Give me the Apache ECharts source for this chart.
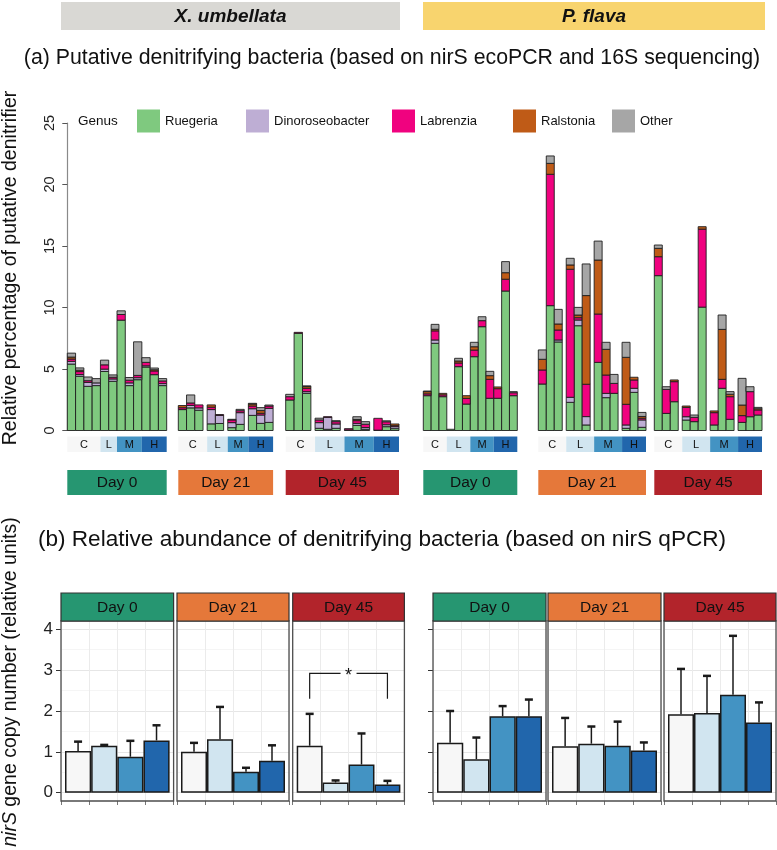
<!DOCTYPE html>
<html><head><meta charset="utf-8">
<script src="https://cdn.jsdelivr.net/npm/echarts@6/dist/echarts.min.js"></script>
<style>html,body{margin:0;padding:0;background:#fff}#c{width:777px;height:850px}</style>
</head><body><div id="c"></div>
<script>
// ---------------- DATA ----------------
const genera = ['Ruegeria','Dinoroseobacter','Labrenzia','Ralstonia','Other'];
const treatments = ['C','L','M','H'];
const days = ['Day 0','Day 21','Day 45'];
const species = ['X. umbellata','P. flava'];
const yTicksTop = [0,5,10,15,20,25];

// (a) stacked % per sample: [Ruegeria, Dinoroseobacter, Labrenzia, Ralstonia, Other]
const xumDay0Sizes = [4,2,3,3];
const xumDay0 = [
 [5.40,0.22,0.19,0.16,0.32],[4.41,0.14,0.24,0.11,0.19],[3.59,0.32,0.14,0.00,0.30],[3.65,0.22,0.00,0.00,0.35],
 [4.80,0.19,0.35,0.00,0.38],[4.00,0.19,0.14,0.00,0.19],
 [8.97,0.00,0.46,0.00,0.30],[3.65,0.22,0.22,0.00,0.22],[4.13,0.16,0.19,0.00,2.73],
 [5.16,0.10,0.28,0.00,0.38],[4.54,0.00,0.30,0.10,0.14],[3.65,0.16,0.22,0.00,0.19]
];
const xumDay21Sizes = [3,2,2,3];
const xumDay21 = [
 [1.70,0.00,0.15,0.18,0.00],[1.84,0.20,0.20,0.00,0.65],[1.65,0.19,0.24,0.00,0.00],
 [0.54,1.16,0.20,0.18,0.00],[0.57,0.65,0.08,0.00,0.00],
 [0.23,0.41,0.22,0.00,0.05],[0.50,0.95,0.16,0.00,0.11],
 [1.23,0.54,0.22,0.16,0.06],[0.58,0.68,0.14,0.22,0.24],[0.66,1.14,0.19,0.00,0.08]
];
const xumDay45Sizes = [3,3,3,3];
const xumDay45 = [
 [2.48,0.00,0.27,0.00,0.19],[7.90,0.00,0.08,0.00,0.00],[3.02,0.14,0.27,0.14,0.06],
 [0.18,0.46,0.22,0.00,0.14],[0.10,0.97,0.05,0.00,0.00],[0.18,0.35,0.19,0.00,0.08],
 [0.05,0.00,0.10,0.00,0.00],[0.42,0.16,0.22,0.10,0.22],[0.10,0.14,0.27,0.00,0.21],
 [0.03,0.00,0.96,0.00,0.00],[0.31,0.16,0.24,0.00,0.08],[0.15,0.16,0.08,0.14,0.00]
];
const pflDay0Sizes = [3,3,3,3];
const pflDay0 = [
 [2.83,0.00,0.15,0.18,0.05],[7.09,0.27,0.74,0.13,0.40],[2.75,0.00,0.15,0.12,0.00],
 [0.10,0.00,0.00,0.00,0.00],[5.19,0.00,0.30,0.16,0.22],[2.15,0.00,0.46,0.22,0.00],
 [6.00,0.00,0.54,0.27,0.36],[8.44,0.00,0.49,0.00,0.32],[2.62,0.00,1.54,0.30,0.35],
 [2.62,0.00,0.78,0.14,0.00],[11.34,0.00,0.96,0.53,0.90],[2.83,0.00,0.24,0.00,0.09]
];
const pflDay21Sizes = [3,3,3,3];
const pflDay21 = [
 [3.78,0.00,1.14,0.87,0.76],[10.15,0.00,10.68,0.89,0.60],[7.20,0.16,0.81,0.49,1.19],
 [2.29,0.41,10.41,0.35,0.54],[8.52,0.46,0.19,0.22,0.62],[0.45,0.68,2.63,7.21,2.57],
 [5.54,0.00,3.93,4.39,1.54],[2.67,0.35,1.49,2.09,0.57],[3.02,0.00,0.81,0.00,0.73],
 [0.18,0.27,1.68,3.82,1.22],[3.10,0.33,0.68,0.22,0.00],[0.26,0.60,0.14,0.14,0.33]
];
const pflDay45Sizes = [3,3,3,3];
const pflDay45 = [
 [12.59,0.00,1.54,0.68,0.27],[1.39,0.00,1.95,0.00,0.22],[2.34,0.00,1.63,0.14,0.00],
 [0.85,0.27,0.76,0.11,0.00],[0.72,0.00,0.35,0.00,0.19],[10.03,0.00,6.34,0.20,0.00],
 [0.45,0.00,1.00,0.14,0.00],[3.43,0.00,0.73,4.06,1.17],[0.91,0.00,1.84,0.20,0.21],
 [0.66,0.00,0.55,0.86,2.17],[1.12,0.00,2.04,0.00,0.40],[1.26,0.00,0.41,0.10,0.11]
];

// (b) nirS qPCR: mean and upper error (mean + sd), per day, per treatment C L M H
const xumMean  = [[1.02,1.15,0.88,1.28],[1.00,1.31,0.51,0.78],[1.15,0.25,0.69,0.20]];
const xumUpper = [[1.25,1.17,1.27,1.65],[1.22,2.10,0.61,1.16],[1.93,0.30,1.45,0.29]];
const pflMean  = [[1.22,0.82,1.87,1.87],[1.14,1.20,1.15,1.03],[1.92,1.95,2.40,1.72]];
const pflUpper = [[2.00,1.35,2.12,2.28],[1.83,1.62,1.74,1.23],[3.03,2.86,3.84,2.21]];
const yTicksBottom = [0,1,2,3,4];

// ---------------- STYLE ----------------
const FONT = '"Liberation Sans", Arial, Helvetica, sans-serif';
const genusColors = ['#7fc97f','#beaed4','#f0027f','#bf5b17','#a6a6a6'];
const treatColors = ['#f7f7f7','#d1e5f0','#4393c3','#2166ac'];
const dayColors = ['#269671','#e5783a','#b2242b'];

const grid=[], xAxis=[], yAxis=[], series=[], graphic=[];

// ---------------- (a) TOP PANEL ----------------
const TOP = 123, ZERO = 430.5;
const topGroups = [
  {bars:xumDay0,  sizes:xumDay0Sizes,  gap:0,   left:67.3,  right:166.7, day:0},
  {bars:xumDay21, sizes:xumDay21Sizes, gap:0.5, left:178.3, right:273.1, day:1},
  {bars:xumDay45, sizes:xumDay45Sizes, gap:0.5, left:285.7, right:399.0, day:2},
  {bars:pflDay0,  sizes:pflDay0Sizes,  gap:0,   left:423.3, right:517.3, day:0},
  {bars:pflDay21, sizes:pflDay21Sizes, gap:0.5, left:538.3, right:646.0, day:1},
  {bars:pflDay45, sizes:pflDay45Sizes, gap:0.5, left:654.3, right:762.0, day:2}
];

function segRender(params, api){
  const x=api.value(0), lo=api.value(1), hi=api.value(2);
  if (!(hi>lo)) return null;
  const a=api.coord([x-0.5, lo]), b=api.coord([x+0.5, hi]);
  return {type:'rect', shape:{x:a[0], y:b[1], width:b[0]-a[0], height:a[1]-b[1]},
    style:{fill:api.visual('color'), stroke:'#1e1e1e', lineWidth:0.9}};
}
function txt(t, x, y, font, color){
  return {type:'text', x:x, y:y, style:{text:t, font:font, fill:color||'#111',
    textAlign:'center', textVerticalAlign:'middle', align:'center', verticalAlign:'middle'}};
}
function treatRender(params, api){
  const s=api.value(0), e=api.value(1), ti=api.value(2);
  const a=api.coord([s,0]), b=api.coord([e,0]);
  return {type:'group', children:[
    {type:'rect', shape:{x:a[0], y:a[1]+6, width:b[0]-a[0], height:15.5}, style:{fill:treatColors[ti]}},
    txt(treatments[ti], (a[0]+b[0])/2, a[1]+14, '11px '+FONT, '#111')
  ]};
}
function dayRender(params, api){
  const s=api.value(0), e=api.value(1), d=api.value(2);
  const a=api.coord([s,0]), b=api.coord([e,0]);
  return {type:'group', children:[
    {type:'rect', shape:{x:a[0], y:a[1]+39.5, width:b[0]-a[0], height:25}, style:{fill:dayColors[d]}},
    txt(days[d], (a[0]+b[0])/2, a[1]+52.5, '15.5px '+FONT, '#111')
  ]};
}

topGroups.forEach((g, gi) => {
  const pos=[], starts=[]; let u=0;
  g.sizes.forEach((n, ti) => {
    if (ti>0) u += g.gap;
    starts.push(u);
    for (let k=0;k<n;k++){ pos.push(u+0.5); u+=1; }
  });
  const total=u;
  const boxes = starts.map((s,i)=>[s, i<starts.length-1 ? starts[i+1] : total, i, 0]);
  grid.push({left:g.left, top:TOP, width:g.right-g.left, height:ZERO-TOP});
  xAxis.push({gridIndex:gi, type:'value', min:0, max:total, show:false});
  yAxis.push({gridIndex:gi, type:'value', min:0, max:25, interval:5, show:gi===0, offset:5,
    axisLine:{show:true, lineStyle:{color:'#8a8a8a', width:1.2}},
    axisTick:{show:true, length:5, lineStyle:{color:'#555'}},
    axisLabel:{rotate:90, fontSize:14.5, color:'#222', margin:5, fontFamily:FONT},
    splitLine:{show:false}});
  const base = g.bars.map(()=>0);
  genera.forEach((name, k) => {
    const data = g.bars.map((b,i)=>{ const lo=base[i]; base[i]=lo+b[k]; return [pos[i], lo, base[i]]; });
    series.push({type:'custom', name:name, xAxisIndex:gi, yAxisIndex:gi,
      itemStyle:{color:genusColors[k]}, encode:{x:0, y:[1,2]}, data:data, renderItem:segRender, z:3});
  });
  series.push({type:'custom', xAxisIndex:gi, yAxisIndex:gi, data:boxes, encode:{x:[0,1], y:3},
    renderItem:treatRender, clip:false, silent:true, z:2});
  series.push({type:'custom', xAxisIndex:gi, yAxisIndex:gi, data:[[0,total,g.day,0]], encode:{x:[0,1], y:3},
    renderItem:dayRender, clip:false, silent:true, z:2});
});

// ---------------- (b) BOTTOM PANEL ----------------
const PTOP = 621, PBOT = 801, Y4 = 629.3, Y0 = 792.7, STRIP_TOP = 593;
const facets = [
  {x0:61,  x1:173.6, mean:xumMean[0], up:xumUpper[0], day:0, labels:true,  ticks:true},
  {x0:177, x1:289,   mean:xumMean[1], up:xumUpper[1], day:1, labels:false, ticks:false},
  {x0:292.7,x1:404.4,mean:xumMean[2], up:xumUpper[2], day:2, labels:false, ticks:false, bracket:true},
  {x0:433, x1:546,   mean:pflMean[0], up:pflUpper[0], day:0, labels:false, ticks:true},
  {x0:548, x1:661,   mean:pflMean[1], up:pflUpper[1], day:1, labels:false, ticks:false},
  {x0:664, x1:776,   mean:pflMean[2], up:pflUpper[2], day:2, labels:false, ticks:false}
];
function errRender(params, api){
  const a=api.coord([api.value(0), api.value(1)]), b=api.coord([api.value(0), api.value(2)]);
  return {type:'group', children:[
    {type:'line', shape:{x1:a[0],y1:a[1],x2:b[0],y2:b[1]}, style:{stroke:'#1a1a1a', lineWidth:1.5}},
    {type:'line', shape:{x1:b[0]-4,y1:b[1],x2:b[0]+4,y2:b[1]}, style:{stroke:'#1a1a1a', lineWidth:2.5}}
  ]};
}
function bracketRender(params, api){
  const i0=api.value(0), i1=api.value(1), lo=api.value(2), hi=api.value(3);
  const p0=api.coord([i0,lo]), p1=api.coord([i0,hi]), p2=api.coord([i1,hi]), p3=api.coord([i1,lo]);
  const mid=(p1[0]+p2[0])/2;
  const st={stroke:'#1a1a1a', lineWidth:1.2, fill:'none'};
  return {type:'group', children:[
    {type:'polyline', shape:{points:[p0,p1,[mid-8,p1[1]]]}, style:st},
    {type:'polyline', shape:{points:[[mid+8,p2[1]],p2,p3]}, style:st},
    txt('*', mid, p1[1]+3, '18px '+FONT, '#111')
  ]};
}
facets.forEach((f, fi) => {
  const gA = grid.length, w = f.x1-f.x0;
  grid.push({left:f.x0, top:PTOP, width:w, height:PBOT-PTOP});
  xAxis.push({gridIndex:gA, type:'category', data:treatments, boundaryGap:true,
    axisLine:{show:false}, axisLabel:{show:false},
    axisTick:{show:true, length:4, interval:0, lineStyle:{color:'#777'}},
    splitLine:{show:true, interval:0, lineStyle:{color:'#ebebeb', width:1}}});
  yAxis.push({gridIndex:gA, type:'value', min:0, max:1, show:false});
  grid.push({left:f.x0, top:Y4, width:w, height:Y0-Y4});
  xAxis.push({gridIndex:gA+1, type:'value', min:0, max:1, show:false});
  yAxis.push({gridIndex:gA+1, type:'value', min:0, max:4, interval:1,
    axisLine:{show:false},
    axisTick:{show:f.ticks, length:5, lineStyle:{color:'#333'}},
    axisLabel:{show:f.labels, fontSize:17, color:'#222', margin:8, fontFamily:FONT},
    splitLine:{show:true, lineStyle:{color:'#e6e6e6', width:1}},
    minorTick:{show:false, splitNumber:2},
    minorSplitLine:{show:true, lineStyle:{color:'#f0f0f0', width:0.7}}});
  grid.push({left:f.x0+4, top:Y4, width:w-8, height:Y0-Y4});
  xAxis.push({gridIndex:gA+2, type:'category', data:treatments, show:false});
  yAxis.push({gridIndex:gA+2, type:'value', min:0, max:4, show:false});
  series.push({type:'bar', xAxisIndex:gA+2, yAxisIndex:gA+2, barWidth:'100%', barCategoryGap:0,
    data:f.mean.map((v,i)=>({value:v, itemStyle:{color:treatColors[i]}})),
    itemStyle:{borderColor:'#1a1a1a', borderWidth:1.5}, z:3, silent:true});
  series.push({type:'custom', xAxisIndex:gA+2, yAxisIndex:gA+2, encode:{x:0, y:[1,2]},
    data:f.mean.map((v,i)=>[i, v, f.up[i]]), renderItem:errRender, z:4, clip:false, silent:true});
  if (f.bracket){
    series.push({type:'custom', xAxisIndex:gA+2, yAxisIndex:gA+2, encode:{x:[0,1], y:[2,3]},
      data:[[0,3,2.3,2.92]], renderItem:bracketRender, z:4, clip:false, silent:true});
  }
  graphic.push({type:'rect', shape:{x:f.x0, y:PTOP, width:w, height:PBOT-PTOP},
    style:{fill:'none', stroke:'#4d4d4d', lineWidth:1.3}, z:10});
  graphic.push({type:'rect', shape:{x:f.x0, y:STRIP_TOP, width:w, height:PTOP-STRIP_TOP},
    style:{fill:dayColors[f.day], stroke:'#333', lineWidth:1.2}, z:10});
  graphic.push(Object.assign(txt(days[f.day], f.x0+w/2, (STRIP_TOP+PTOP)/2+0.5, '15.5px '+FONT, '#111'), {z:11}));
});

// ---------------- HEADERS / TITLES ----------------
graphic.push({type:'rect', shape:{x:61, y:2, width:339, height:28}, style:{fill:'#d9d8d4'}, z:1});
graphic.push({type:'rect', shape:{x:423, y:2, width:342, height:28}, style:{fill:'#f8d46e'}, z:1});
graphic.push(Object.assign(txt(species[0], 230.5, 16.5, 'italic bold 19px '+FONT, '#111'), {z:2}));
graphic.push(Object.assign(txt(species[1], 594, 16.5, 'italic bold 19px '+FONT, '#111'), {z:2}));
graphic.push(txt('(a) Putative denitrifying bacteria (based on nirS ecoPCR and 16S sequencing)', 392, 58, '21.3px '+FONT, '#111'));
graphic.push(txt('(b) Relative abundance of denitrifying bacteria (based on nirS qPCR)', 382, 540, '22.6px '+FONT, '#111'));
graphic.push({type:'text', x:78, y:121, style:{text:'Genus', font:'13.5px '+FONT, fill:'#111',
  textVerticalAlign:'middle', verticalAlign:'middle'}});
graphic.push({type:'text', x:11, y:268, rotation:Math.PI/2, style:{text:'Relative percentage of putative denitrifier',
  font:'19.5px '+FONT, fill:'#111', textAlign:'center', textVerticalAlign:'middle', align:'center', verticalAlign:'middle'}});
graphic.push({type:'text', x:11, y:682, rotation:Math.PI/2, style:{text:'{i|nirS} gene copy number (relative units)',
  font:'19.5px '+FONT, fontSize:19.5, fontFamily:FONT, fill:'#111', rich:{i:{fontStyle:'italic', fontSize:19.5, fontFamily:FONT}},
  textAlign:'center', textVerticalAlign:'middle', align:'center', verticalAlign:'middle'}});

const legendX = [137,246,392,513,612];
const legend = genera.map((n,k)=>({data:[n], left:legendX[k], top:109.5, padding:0, itemWidth:23, itemHeight:23,
  icon:'rect', itemGap:0, selectedMode:false, textStyle:{fontSize:13, fontFamily:FONT, color:'#111'}}));

const chart = echarts.init(document.getElementById('c'), null, {width:777, height:850});
chart.setOption({animation:false, backgroundColor:'#fff', textStyle:{fontFamily:FONT},
  legend, grid, xAxis, yAxis, series, graphic});
</script></body></html>
